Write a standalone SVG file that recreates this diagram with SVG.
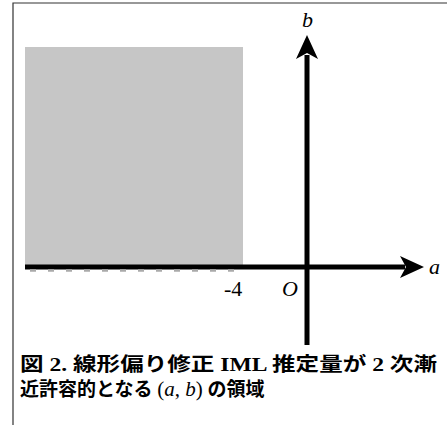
<svg xmlns="http://www.w3.org/2000/svg" width="447" height="425" viewBox="0 0 447 425">
<style>
.frame{stroke:#333;stroke-width:1.2;fill:none}
.axis{stroke:#000;stroke-width:5;fill:none}
.lbl{font-family:"Liberation Serif",serif;font-size:22px;fill:#000}
.it{font-style:italic}
.cap{font-family:"Liberation Serif","Noto Sans CJK JP",serif;font-weight:bold;font-size:19px;fill:#000}
</style>
<defs>
<pattern id="dots" width="2" height="2" patternUnits="userSpaceOnUse">
<rect width="2" height="2" fill="#dadada"/>
<rect width="1" height="1" fill="#b0b0b0"/>
<rect x="1" y="1" width="1" height="1" fill="#b0b0b0"/>
</pattern>
</defs>
<g id="frame">
<path class="frame" d="M13,425 V3 H447"/>
</g>
<g id="region">
<rect x="25" y="47" width="218" height="220" fill="#c6c6c6"/>
</g>
<g id="connectors">
<line class="axis" x1="25" y1="267" x2="405" y2="267"/>
<path d="M424,267 L400,256 L406,267 L400,278 Z" fill="#000"/>
<line x1="30" y1="270.5" x2="243" y2="270.5" stroke="#aaa" stroke-width="2.5" stroke-dasharray="6,12"/>
<line class="axis" x1="307" y1="345" x2="307" y2="55"/>
<path d="M307,35 L296,59 L307,53 L318,59 Z" fill="#000"/>
</g>
<g id="labels">
<text class="lbl it" x="302" y="27">b</text>
<text class="lbl it" x="429" y="274">a</text>
<text class="lbl" x="224" y="296">-4</text>
<text class="lbl it" x="282" y="296">O</text>
</g>
<g id="caption">
<text class="cap" x="20" y="371" textLength="417" lengthAdjust="spacingAndGlyphs">図 2. 線形偏り修正 IML 推定量が 2 次漸</text>
<text class="cap" x="20" y="396">近許容的となる <tspan font-weight="normal" font-size="21">(<tspan font-style="italic">a</tspan>, <tspan font-style="italic">b</tspan>)</tspan> の領域</text>
</g>
</svg>
